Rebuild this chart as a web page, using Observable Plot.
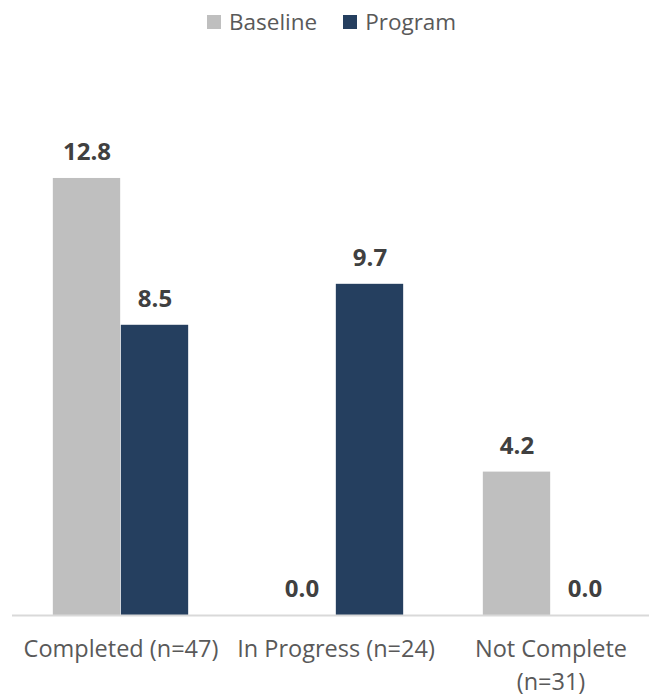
<!DOCTYPE html>
<html>
<head>
<meta charset="utf-8">
<script src="https://cdn.jsdelivr.net/npm/d3@7"></script>
<script src="https://cdn.jsdelivr.net/npm/@observablehq/plot@0.6"></script>
<style>
  html, body { margin: 0; padding: 0; background: #fff; }
  #wrap { position: relative; width: 649px; height: 694px; font-family: 'Open Sans', sans-serif; }
  #legend { position: absolute; top: 6px; left: 207px; display: flex; align-items: center; font-size: 22.5px; color: #595959; }
  #legend .item { display: flex; align-items: center; margin-right: 26px; }
  #legend .sw { width: 14px; height: 14px; margin-right: 8px; }
</style>
</head>
<body>
<div id="wrap"><div id="legend"></div></div>
<script>
const categories = ["Completed (n=47)", "In Progress (n=24)", "Not Complete\n(n=31)"];
const series = ["Baseline", "Program"];
const baselineValues = [12.8, 0.0, 4.2];
const programValues = [8.5, 9.7, 0.0];
const colors = ["#bfbfbf", "#253f5f"];

const baseData = categories.map((c, i) => ({category: c, series: "Baseline", value: baselineValues[i]}));
const progData = categories.map((c, i) => ({category: c, series: "Program", value: programValues[i]}));

const legend = document.getElementById("legend");
series.forEach((s, i) => {
  const it = document.createElement("div");
  it.className = "item";
  const sw = document.createElement("div");
  sw.className = "sw";
  sw.style.background = colors[i];
  const t = document.createElement("span");
  t.textContent = s;
  it.appendChild(sw); it.appendChild(t);
  legend.appendChild(it);
});

const halfBar = 68;
const stepHalf = (659 - 12) / categories.length / 2;

const chart = Plot.plot({
  width: 649,
  height: 694,
  marginLeft: 12,
  marginRight: 0,
  marginTop: 137,
  marginBottom: 79,
  style: {fontFamily: "'Open Sans', sans-serif", background: "#fff"},
  x: {type: "band", domain: categories, range: [12, 659], padding: 0},
  y: {domain: [0, 14], axis: null},
  marks: [
    Plot.barY(baseData, {x: "category", y: "value", fill: colors[0], insetLeft: stepHalf - halfBar, insetRight: stepHalf}),
    Plot.barY(progData, {x: "category", y: "value", fill: colors[1], insetLeft: stepHalf, insetRight: stepHalf - halfBar}),
    Plot.ruleY([0], {stroke: "#d9d9d9", strokeWidth: 2}),
    Plot.text(baseData, {x: "category", y: "value", text: d => d.value.toFixed(1), dx: -halfBar / 2, dy: -26, fontSize: 24, fontWeight: "bold", fill: "#404040", lineAnchor: "middle"}),
    Plot.text(progData, {x: "category", y: "value", text: d => d.value.toFixed(1), dx: halfBar / 2, dy: -26, fontSize: 24, fontWeight: "bold", fill: "#404040", lineAnchor: "middle"}),
    Plot.axisX({tickSize: 0, tickPadding: 18, fontSize: 23.5, lineHeight: 1.4, color: "#595959", label: null})
  ]
});
document.getElementById("wrap").appendChild(chart);
</script>
</body>
</html>
